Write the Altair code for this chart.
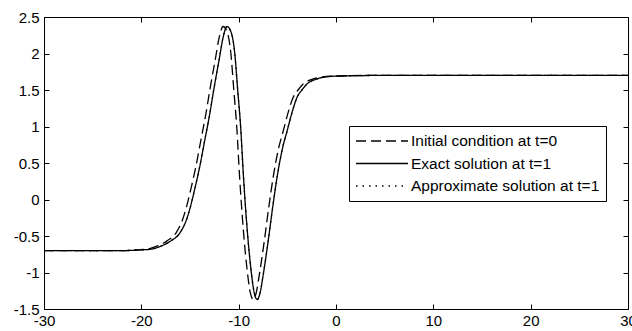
import altair as alt
import pandas as pd

# ---- data ----
series_names = ["Initial condition at t=0", "Exact solution at t=1", "Approximate solution at t=1"]

x_exact = [-30, -26, -22, -20, -19, -18, -17, -16, -15.4, -15, -14.5, -14, -13.5, -13, -12.5, -12,
           -11.6, -11.2, -10.8, -10.4, -10.1, -9.8, -9.5, -9.1, -8.7, -8.4, -8.1, -7.8, -7.5, -7.0,
           -6.5, -6.0, -5.5, -5.0, -4.5, -4.0, -3.5, -3.0, -2.0, -1.0, 0, 5, 30]
y_exact = [-0.70, -0.70, -0.70, -0.69, -0.68, -0.64, -0.57, -0.45, -0.29, -0.12, 0.15, 0.45, 0.80, 1.15,
           1.55, 1.92, 2.22, 2.37, 2.30, 2.00, 1.50, 1.00, 0.30, -0.45, -1.00, -1.28, -1.37, -1.28, -1.05,
           -0.60, -0.10, 0.35, 0.70, 0.95, 1.20, 1.40, 1.50, 1.58, 1.65, 1.68, 1.69, 1.70, 1.70]

x_init = [-30, -26, -22, -20.4, -19.4, -18.4, -17.4, -16.4, -15.8, -15.4, -14.9, -14.4, -13.9, -13.4,
          -12.9, -12.4, -12.0, -11.6, -11.2, -10.8, -10.5, -10.2, -9.9, -9.5, -9.1, -8.8, -8.5, -8.2,
          -7.9, -7.4, -6.9, -6.4, -5.9, -5.4, -4.9, -4.4, -3.9, -3.4, -2.4, -1.4, -0.4, 4.6, 30]
y_init = [-0.70, -0.70, -0.70, -0.69, -0.68, -0.64, -0.57, -0.45, -0.29, -0.12, 0.15, 0.45, 0.80, 1.15,
          1.55, 1.92, 2.22, 2.37, 2.30, 2.00, 1.50, 1.00, 0.30, -0.45, -1.00, -1.28, -1.37, -1.28, -1.05,
          -0.60, -0.10, 0.35, 0.70, 0.95, 1.20, 1.40, 1.50, 1.58, 1.65, 1.68, 1.69, 1.70, 1.70]

x_approx = [-30, -26, -22, -20, -19, -18, -17, -16, -15.4, -15, -14.5, -14, -13.5, -13, -12.5, -12,
            -11.6, -11.2, -10.8, -10.4, -10.1, -9.8, -9.5, -9.1, -8.7, -8.4, -8.1, -7.8, -7.5, -7.0,
            -6.5, -6.0, -5.5, -5.0, -4.5, -4.0, -3.5, -3.0, -2.0, -1.0, 0, 5, 30]
y_approx = [-0.70, -0.70, -0.70, -0.69, -0.68, -0.64, -0.57, -0.45, -0.29, -0.12, 0.15, 0.45, 0.80, 1.15,
            1.55, 1.92, 2.22, 2.37, 2.30, 2.00, 1.50, 1.00, 0.30, -0.45, -1.00, -1.28, -1.37, -1.28, -1.05,
            -0.60, -0.10, 0.35, 0.70, 0.95, 1.20, 1.40, 1.50, 1.58, 1.65, 1.68, 1.69, 1.70, 1.70]

x_ticks = [-30, -20, -10, 0, 10, 20, 30]
y_ticks = [-1.5, -1, -0.5, 0, 0.5, 1, 1.5, 2, 2.5]

# ---- build table ----
rows = []
for name, xs, ys in [(series_names[0], x_init, y_init),
                     (series_names[1], x_exact, y_exact),
                     (series_names[2], x_approx, y_approx)]:
    for i, (xv, yv) in enumerate(zip(xs, ys)):
        rows.append({"series": name, "x": xv, "y": yv, "i": i})
df = pd.DataFrame(rows)

FONT = "Liberation Sans"
xscale = alt.Scale(domain=[-30, 30], nice=False, zero=False)
yscale = alt.Scale(domain=[-1.5, 2.5], nice=False, zero=False)

lines = alt.Chart(df).mark_line(color="black", strokeWidth=1.3, clip=True,
                                interpolate="monotone").encode(
    x=alt.X("x:Q", scale=xscale,
            axis=alt.Axis(orient="bottom", values=x_ticks, grid=False, domain=False, tickSize=5,
                          offset=-5, tickColor="black", title=None, labelPadding=4,
                          labelFont=FONT, labelFontSize=15, labelColor="black",
                          labelFlush=False, labelBound=False, labelOverlap=False,
                          labelExpr="'' + datum.value")),
    y=alt.Y("y:Q", scale=yscale,
            axis=alt.Axis(orient="left", values=y_ticks, grid=False, domain=False, tickSize=5,
                          offset=-5, tickColor="black", title=None, labelPadding=5,
                          labelFont=FONT, labelFontSize=15, labelColor="black",
                          labelFlush=False, labelBound=False, labelOverlap=False,
                          labelExpr="'' + datum.value")),
    strokeDash=alt.StrokeDash(
        "series:N",
        scale=alt.Scale(domain=series_names, range=[[10, 5], [1, 0], [1.5, 5]]),
        legend=alt.Legend(orient="none", legendX=305, legendY=109, title=None,
                          symbolType="stroke", symbolSize=2700, symbolStrokeWidth=1.3,
                          symbolStrokeColor="black", labelFont=FONT, labelFontSize=15.5,
                          labelColor="black", labelOffset=2, labelLimit=0, padding=6,
                          clipHeight=18, rowPadding=4.5,
                          strokeColor="black", fillColor="white", cornerRadius=0),
    ),
    detail="series:N",
    order="i:Q",
)

frame_axes = alt.Chart(df).mark_line(opacity=0).encode(
    x=alt.X("x:Q", scale=xscale,
            axis=alt.Axis(orient="top", values=x_ticks, grid=False, domain=False, tickSize=5,
                          offset=-5, tickColor="black", title=None, labels=False)),
    y=alt.Y("y:Q", scale=yscale,
            axis=alt.Axis(orient="right", values=y_ticks, grid=False, domain=False, tickSize=5,
                          offset=-5, tickColor="black", title=None, labels=False)),
    detail="series:N",
)

chart = alt.layer(frame_axes, lines).properties(
    width=584, height=292,
    padding={"left": 44, "top": 17, "right": 4, "bottom": 22},
    autosize=alt.AutoSizeParams(type="none"),
    background="white",
).configure_view(stroke="black", strokeWidth=1)

chart.save("out.html", embed_options={"renderer": "svg", "actions": False})
